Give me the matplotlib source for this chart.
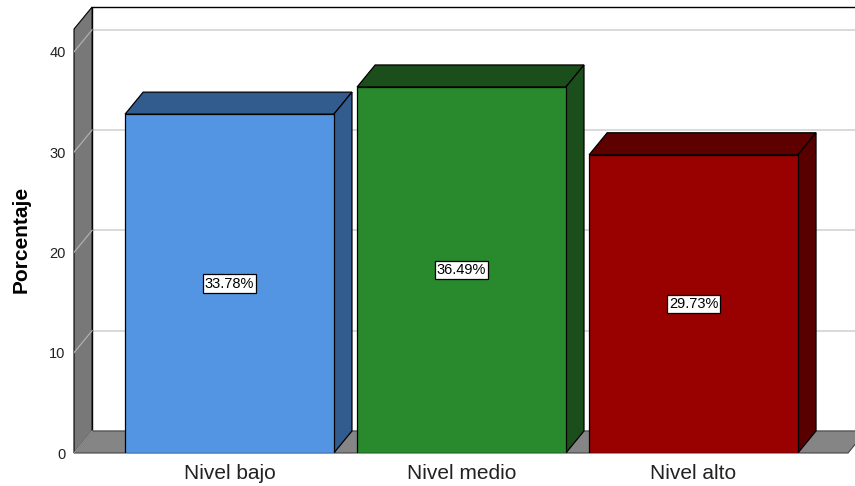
import matplotlib.pyplot as plt
from matplotlib.patches import Polygon

plt.rcParams["font.family"] = ["Liberation Sans", "DejaVu Sans"]

categories = ["Nivel bajo", "Nivel medio", "Nivel alto"]
percentages = [33.78, 36.49, 29.73]
labels = ["33.78%", "36.49%", "29.73%"]
yticks = [0, 10, 20, 30, 40]

front_colors = ["#5495E3", "#298A2D", "#990000"]
top_colors = ["#335C8E", "#1B4E1B", "#5E0000"]
side_colors = ["#335C8E", "#1B4E1B", "#580000"]

# depth offset of the 3D effect (data units)
DX = 0.078
DY = 2.2
X0, X1 = -0.67, 2.696
YTOP = 42.27
YMAX = 44.47
BAR_W = 0.9


def main() -> None:
    fig = plt.figure(figsize=(8.55, 4.86), dpi=100)
    ax = fig.add_axes([74 / 855, 33 / 486, (855 - 74) / 855, (453 - 7) / 486])
    ax.set_xlim(X0, X1)
    ax.set_ylim(0, YMAX)
    for s in ax.spines.values():
        s.set_visible(False)

    # back wall + grid
    ax.add_patch(Polygon([(X0 + DX, DY), (X0 + DX, YTOP + DY), (X1 + 1, YTOP + DY), (X1 + 1, DY)],
                         closed=True, facecolor="white", edgecolor="none", zorder=0))
    for v in yticks[1:]:
        ax.plot([X0 + DX, X1 + 1], [v + DY, v + DY], color="#D3D3D3", lw=1.2, zorder=1)
    ax.plot([X0 + DX, X0 + DX, X1 + 1], [DY, YTOP + DY, YTOP + DY], color="black", lw=1.0,
            zorder=2, clip_on=False)

    # left wall
    ax.add_patch(Polygon([(X0, 0), (X0, YTOP), (X0 + DX, YTOP + DY), (X0 + DX, DY)],
                         closed=True, facecolor="#787878", edgecolor="black", lw=0.8, zorder=2,
                         clip_on=False))
    # floor
    ax.add_patch(Polygon([(X0, 0), (2.666, 0), (2.666 + DX, DY), (X0 + DX, DY)],
                         closed=True, facecolor="#858585", edgecolor="#444444", lw=0.8, zorder=2,
                         clip_on=False))
    for v in yticks[1:]:
        ax.plot([X0, X0 + DX], [v, v + DY], color="#B0B0B0", lw=0.9, zorder=3)
    ax.plot([X0, X0 + DX], [0, DY], color="#9A9A9A", lw=0.8, zorder=3)

    xs = list(range(len(categories)))
    ax.bar(xs, percentages, width=BAR_W, color=front_colors, edgecolor="black", lw=0.9, zorder=5)
    for x, v, tc, sc, lab in zip(xs, percentages, top_colors, side_colors, labels):
        l, r = x - BAR_W / 2, x + BAR_W / 2
        ax.add_patch(Polygon([(l, v), (r, v), (r + DX, v + DY), (l + DX, v + DY)], closed=True,
                             facecolor=tc, edgecolor="black", lw=0.9, zorder=4))
        ax.add_patch(Polygon([(r, 0), (r + DX, DY), (r + DX, v + DY), (r, v)], closed=True,
                             facecolor=sc, edgecolor="black", lw=0.9, zorder=4))
        ax.text(x, v / 2, lab, ha="center", va="center", fontsize=10.5, zorder=6,
                bbox=dict(boxstyle="square,pad=0.15", facecolor="white", edgecolor="black", lw=0.9))

    ax.set_xticks(xs, categories, fontsize=15, color="#222222")
    ax.set_yticks(yticks, [str(t) for t in yticks], fontsize=10.5, color="#222222")
    ax.tick_params(axis="x", length=0, pad=8)
    ax.tick_params(axis="y", length=0, pad=6)
    fig.text(21 / 855, 1 - 239 / 486, "Porcentaje", rotation=90, ha="center", va="center",
             fontsize=15, fontweight="bold")

    fig.savefig("out.png", dpi=100)
    plt.close(fig)


if __name__ == "__main__":
    main()
